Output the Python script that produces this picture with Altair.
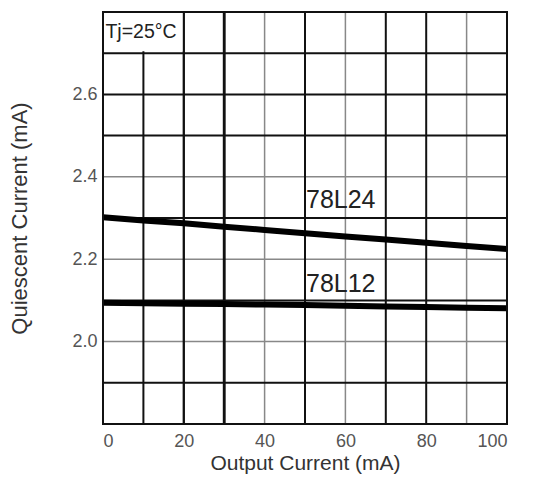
import altair as alt
import pandas as pd

# Data
x_vals = [0, 10, 20, 30, 40, 50, 60, 70, 80, 90, 100]
q_78l24 = [2.302, 2.294, 2.287, 2.279, 2.271, 2.263, 2.255, 2.248, 2.240, 2.232, 2.225]
q_78l12 = [2.094, 2.093, 2.092, 2.091, 2.090, 2.089, 2.087, 2.085, 2.084, 2.082, 2.081]
series_names = ["78L24", "78L12"]
label_x = [50, 50]
label_y = [2.344, 2.139]

v_grid_dark = [10, 20, 30, 50, 70, 80]
v_grid_light = [40, 60, 90]
h_grid_dark = [1.9, 2.1, 2.3, 2.5, 2.6, 2.7]
h_grid_light = [2.0, 2.2, 2.4]

rows = []
for name, ys in zip(series_names, [q_78l24, q_78l12]):
    for x, y in zip(x_vals, ys):
        rows.append({"series": name, "x": x, "y": y})
df = pd.DataFrame(rows)

FONT = "Liberation Sans"
xs = alt.Scale(domain=[0, 100], nice=False)
ys = alt.Scale(domain=[1.8, 2.8], nice=False, zero=False)

x_axis = alt.Axis(values=[0, 20, 40, 60, 80, 100], title="Output Current (mA)",
                  grid=False, ticks=False, domain=False, labelFontSize=18,
                  labelColor="#555", labelPadding=8, titleFontSize=21,
                  titleFontWeight="normal", titleColor="#333", titlePadding=2,
                  labelFont=FONT, titleFont=FONT)
y_axis = alt.Axis(values=[2.0, 2.2, 2.4, 2.6], format=".1f", title="Quiescent Current (mA)",
                  grid=False, ticks=False, domain=False, labelFontSize=18,
                  labelColor="#555", labelPadding=6, titleFontSize=22,
                  titleFontWeight="normal", titleColor="#333", titlePadding=40,
                  labelFont=FONT, titleFont=FONT)

vd = alt.Chart(pd.DataFrame({"x": v_grid_dark})).mark_rule(color="#111", strokeWidth=2).encode(
    x=alt.X("x:Q", scale=xs, axis=x_axis))
vl = alt.Chart(pd.DataFrame({"x": v_grid_light})).mark_rule(color="#888", strokeWidth=1.5).encode(
    x=alt.X("x:Q", scale=xs))
hd = alt.Chart(pd.DataFrame({"y": h_grid_dark})).mark_rule(color="#111", strokeWidth=2).encode(
    y=alt.Y("y:Q", scale=ys, axis=y_axis))
hl = alt.Chart(pd.DataFrame({"y": h_grid_light})).mark_rule(color="#888", strokeWidth=1.5).encode(
    y=alt.Y("y:Q", scale=ys))
v20 = alt.Chart(pd.DataFrame({"x": [20]})).mark_rule(color="#111", strokeWidth=2).encode(
    x=alt.X("x:Q", scale=xs))
v30 = alt.Chart(pd.DataFrame({"x": [30]})).mark_rule(color="#111", strokeWidth=2.8).encode(
    x=alt.X("x:Q", scale=xs))

box = alt.Chart(pd.DataFrame({"x": [0], "x2": [20], "y": [2.705], "y2": [2.8]})).mark_rect(
    fill="white").encode(x=alt.X("x:Q", scale=xs), x2="x2:Q", y=alt.Y("y:Q", scale=ys), y2="y2:Q")
tj = alt.Chart(pd.DataFrame({"x": [0.6], "y": [2.752], "t": ["Tj=25°C"]})).mark_text(
    align="left", baseline="middle", fontSize=19.5, font=FONT, color="#222").encode(
    x=alt.X("x:Q", scale=xs), y=alt.Y("y:Q", scale=ys), text="t:N")

lines = alt.Chart(df).mark_line(color="black", strokeWidth=6).encode(
    x=alt.X("x:Q", scale=xs), y=alt.Y("y:Q", scale=ys), detail="series:N")

labels = alt.Chart(pd.DataFrame({"x": label_x, "y": label_y, "t": series_names})).mark_text(
    align="left", baseline="middle", fontSize=25, font=FONT, color="#222", dx=1).encode(
    x=alt.X("x:Q", scale=xs), y=alt.Y("y:Q", scale=ys), text="t:N")

frame = alt.Chart(pd.DataFrame({"x": [0], "x2": [100], "y": [1.8], "y2": [2.8]})).mark_rect(
    fill=None, stroke="#111", strokeWidth=2).encode(
    x=alt.X("x:Q", scale=xs), x2="x2:Q", y=alt.Y("y:Q", scale=ys), y2="y2:Q")

chart = alt.layer(vl, hl, vd, hd, box, v20, v30, tj, lines, labels, frame).properties(
    width=404, height=412, autosize="none",
    padding={"left": 95, "top": 4, "right": 19, "bottom": 50}
).configure_view(stroke=None).configure(background="white")

chart.save("out.html", embed_options={"renderer": "svg", "actions": False})
